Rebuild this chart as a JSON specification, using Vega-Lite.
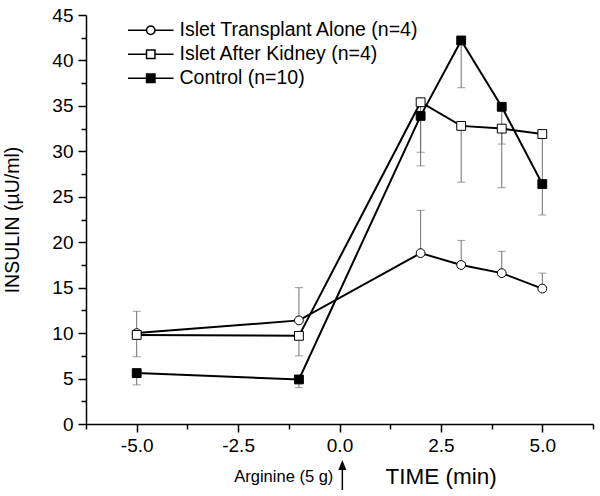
{
  "$schema": "https://vega.github.io/schema/vega-lite/v6.json",
  "width": 507,
  "height": 409,
  "autosize": "none",
  "padding": {"left": 86, "top": 15, "right": 7, "bottom": 72},
  "background": "white",
  "config": {
    "view": {"stroke": null},
    "font": "Liberation Sans",
    "axis": {"grid": false, "domainColor": "black", "domainWidth": 1.5, "tickColor": "black", "tickWidth": 1.5, "labelColor": "black", "titleColor": "black", "labelFont": "Liberation Sans", "titleFont": "Liberation Sans", "titleFontWeight": "normal"}
  },
  "datasets": {
    "insulin": [
      {"series": "Islet Transplant Alone (n=4)", "time": -5, "mean": 10.0, "err": 12.4},
      {"series": "Islet Transplant Alone (n=4)", "time": -1, "mean": 11.4, "err": 15.0},
      {"series": "Islet Transplant Alone (n=4)", "time": 2, "mean": 18.8, "err": 23.5},
      {"series": "Islet Transplant Alone (n=4)", "time": 3, "mean": 17.5, "err": 20.2},
      {"series": "Islet Transplant Alone (n=4)", "time": 4, "mean": 16.6, "err": 19.0},
      {"series": "Islet Transplant Alone (n=4)", "time": 5, "mean": 14.9, "err": 16.6},
      {"series": "Islet After Kidney (n=4)", "time": -5, "mean": 9.8, "err": 7.4},
      {"series": "Islet After Kidney (n=4)", "time": -1, "mean": 9.7, "err": 7.5},
      {"series": "Islet After Kidney (n=4)", "time": 2, "mean": 35.4, "err": 28.4},
      {"series": "Islet After Kidney (n=4)", "time": 3, "mean": 32.8, "err": 26.6},
      {"series": "Islet After Kidney (n=4)", "time": 4, "mean": 32.5, "err": 26.0},
      {"series": "Islet After Kidney (n=4)", "time": 5, "mean": 31.9, "err": 26.5},
      {"series": "Control (n=10)", "time": -5, "mean": 5.6, "err": 4.3},
      {"series": "Control (n=10)", "time": -1, "mean": 4.9, "err": 4.0},
      {"series": "Control (n=10)", "time": 2, "mean": 33.9, "err": 29.9},
      {"series": "Control (n=10)", "time": 3, "mean": 42.2, "err": 37.0},
      {"series": "Control (n=10)", "time": 4, "mean": 34.9, "err": 30.8},
      {"series": "Control (n=10)", "time": 5, "mean": 26.4, "err": 23.0}
    ],
    "note": [
      {"time": 0.07, "top": -4.6, "bottom": -7.26, "head": -4.51, "labelY": -6.38, "label": "Arginine (5 g)"}
    ]
  },
  "resolve": {"axis": {"x": "independent", "y": "independent"}, "scale": {"shape": "independent", "fill": "independent"}, "legend": {"shape": "independent", "fill": "independent"}},
  "layer": [
    {
      "data": {"name": "insulin"},
      "layer": [
        {
          "mark": {"type": "rule", "color": "#707070", "strokeWidth": 1},
          "encoding": {
            "x": {"field": "time", "type": "quantitative", "scale": {"domain": [-6.25, 6.25], "nice": false, "zero": false},
              "axis": {"orient": "bottom", "values": [-5, -2.5, 0, 2.5, 5], "labelExpr": "(datum.value < 0 ? '-' : '') + format(abs(datum.value), '.1f')", "tickSize": 8, "labelFontSize": 19, "labelPadding": 4, "title": "TIME (min)", "titleFontSize": 22.5, "titleAnchor": "start", "titleAlign": "left", "titleX": 299, "titleY": 59, "titleBaseline": "alphabetic"}},
            "y": {"field": "mean", "type": "quantitative", "scale": {"domain": [0, 45], "nice": false, "zero": false},
              "axis": {"orient": "left", "values": [0, 5, 10, 15, 20, 25, 30, 35, 40, 45], "tickSize": 8, "labelFontSize": 19, "labelPadding": 5, "title": "INSULIN (µU/ml)", "titleFontSize": 19.5, "titleAngle": -90, "titleX": -68, "titleY": 204.5, "titleAlign": "center", "titleBaseline": "alphabetic"}},
            "y2": {"field": "err"}
          }
        },
        {
          "mark": {"type": "tick", "orient": "horizontal", "color": "#707070", "size": 8, "thickness": 1},
          "encoding": {
            "x": {"field": "time", "type": "quantitative"},
            "y": {"field": "err", "type": "quantitative"}
          }
        },
        {
          "mark": {"type": "line", "color": "black", "strokeWidth": 2},
          "encoding": {
            "x": {"field": "time", "type": "quantitative"},
            "y": {"field": "mean", "type": "quantitative"},
            "detail": {"field": "series"}
          }
        },
        {
          "mark": {"type": "point", "stroke": "black", "strokeWidth": 1, "size": 78, "opacity": 1, "filled": false},
          "encoding": {
            "x": {"field": "time", "type": "quantitative"},
            "y": {"field": "mean", "type": "quantitative"},
            "shape": {"field": "series", "type": "nominal",
              "scale": {"domain": ["Islet Transplant Alone (n=4)", "Islet After Kidney (n=4)", "Control (n=10)"], "range": ["circle", "square", "square"]},
              "legend": null},
            "fill": {"field": "series", "type": "nominal",
              "scale": {"domain": ["Islet Transplant Alone (n=4)", "Islet After Kidney (n=4)", "Control (n=10)"], "range": ["white", "white", "black"]},
              "legend": null}
          }
        }
      ]
    },
    {
      "data": {"name": "note"},
      "layer": [
        {
          "mark": {"type": "rule", "color": "black", "strokeWidth": 1.5},
          "encoding": {
            "x": {"field": "time", "type": "quantitative",
              "axis": {"orient": "bottom", "values": [-6.25, -3.75, -1.25, 1.25, 3.75, 6.25], "tickSize": 5, "labels": false, "domain": false, "title": null}},
            "y": {"field": "top", "type": "quantitative",
              "axis": {"orient": "left", "values": [2.5, 7.5, 12.5, 17.5, 22.5, 27.5, 32.5, 37.5, 42.5], "tickSize": 5, "labels": false, "domain": false, "title": null}},
            "y2": {"field": "bottom"}
          }
        },
        {
          "mark": {"type": "point", "shape": "M0,-1L0.8,1L-0.8,1Z", "size": 100, "filled": true, "color": "black", "opacity": 1},
          "encoding": {
            "x": {"field": "time", "type": "quantitative"},
            "y": {"field": "head", "type": "quantitative"}
          }
        },
        {
          "mark": {"type": "text", "align": "right", "baseline": "alphabetic", "dx": -9, "fontSize": 16.5, "font": "Liberation Sans", "color": "black"},
          "encoding": {
            "x": {"field": "time", "type": "quantitative"},
            "y": {"field": "labelY", "type": "quantitative"},
            "text": {"field": "label"}
          }
        }
      ]
    },
    {
      "data": {"name": "insulin"},
      "transform": [{"filter": "false"}],
      "mark": {"type": "point", "stroke": "black", "strokeWidth": 1.6, "size": 71, "opacity": 1, "filled": false},
      "encoding": {
        "shape": {"field": "series", "type": "nominal",
          "scale": {"domain": ["Islet Transplant Alone (n=4)", "Islet After Kidney (n=4)", "Control (n=10)"],
            "range": ["M-5.4,0H-1M1,0H5.4M1,0A1,1,0,1,1,-1,0A1,1,0,1,1,1,0Z", "M-5.4,0H-1M1,0H5.4M-1,-1H1V1H-1Z", "M-5.4,0H-1M1,0H5.4M-1,-1H1V1H-1Z"]},
          "legend": {"title": null, "orient": "none", "legendX": 55, "legendY": 5.5, "padding": 0, "labelFontSize": 19.5, "labelFont": "Liberation Sans", "labelColor": "black", "labelLimit": 500, "labelOffset": 19, "rowPadding": 3, "symbolSize": 71}},
        "fill": {"field": "series", "type": "nominal",
          "scale": {"domain": ["Islet Transplant Alone (n=4)", "Islet After Kidney (n=4)", "Control (n=10)"], "range": ["white", "white", "black"]},
          "legend": {"title": null, "orient": "none", "legendX": 55, "legendY": 5.5, "padding": 0, "labelFontSize": 19.5, "labelFont": "Liberation Sans", "labelColor": "black", "labelLimit": 500, "labelOffset": 19, "rowPadding": 3, "symbolSize": 71}}
      }
    }
  ]
}
